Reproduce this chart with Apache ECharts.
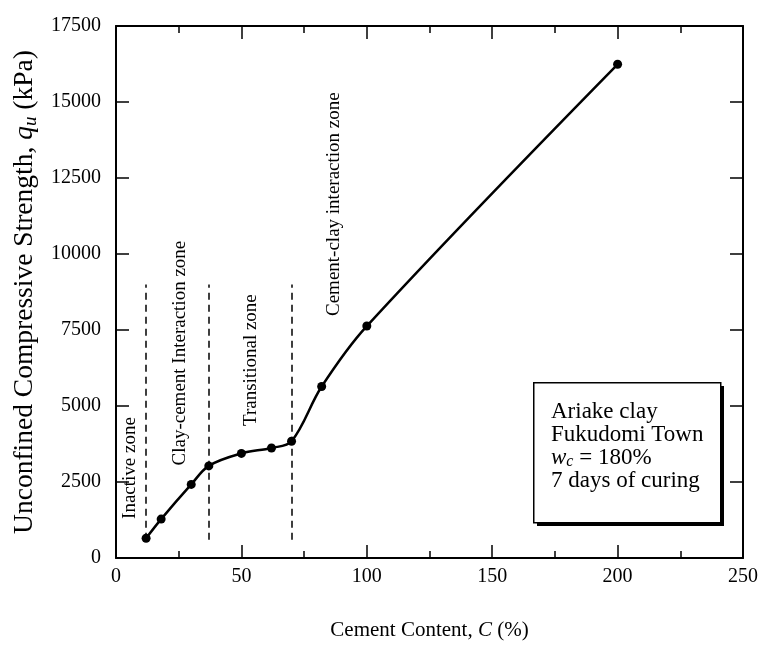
<!DOCTYPE html>
<html>
<head>
<meta charset="utf-8">
<script src="https://cdn.jsdelivr.net/npm/echarts@6/dist/echarts.min.js"></script>
<style>
  html, body { margin: 0; padding: 0; background: #fff; }
  #chart { width: 761px; height: 655px; }
</style>
</head>
<body>
<div id="chart"></div>
<script>
// measured points
const cementContent = [12, 18, 30, 37, 50, 62, 70, 82, 100, 200];
const strength = [650, 1280, 2420, 3030, 3440, 3620, 3840, 5640, 7630, 16240];
// zone boundaries (dashed lines) and zone names
const zoneBounds = [12, 37, 70];
const zoneNames = ['Inactive zone', 'Clay-cement Interaction zone', 'Transitional zone', 'Cement-clay interaction zone'];
const boxLines = ['Ariake clay', 'Fukudomi Town', '{i|w}{s|c}{n| = 180%}', '7 days of curing'];

const FONT = 'Liberation Serif';
const chart = echarts.init(document.getElementById('chart'));

// where the rotated zone names sit (data coords)
const zoneAnchors = [[5.6, 2960], [25.4, 6740], [54, 6510], [87, 11640]];
const dashFrom = 600, dashTo = 9000;

const axisCommon = {
  min: 0,
  axisLine: { show: true, onZero: false, lineStyle: { color: '#000', width: 2 } },
  axisTick: { show: true, inside: true, length: 13, lineStyle: { color: '#000', width: 1.5 } },
  splitLine: { show: false }
};

const option = {
  animation: false,
  backgroundColor: '#fff',
  textStyle: { fontFamily: FONT, color: '#000' },
  grid: { left: 116, right: 16, top: 26, bottom: 97 },
  xAxis: [
    Object.assign({}, axisCommon, {
      type: 'value', max: 250, interval: 50, position: 'bottom',
      minorTick: { show: true, splitNumber: 2, length: 7, lineStyle: { color: '#000', width: 1.5 } },
      axisLabel: { fontFamily: FONT, fontSize: 20, color: '#000', margin: 9, formatter: v => String(v) },
      name: '{n|Cement Content, }{i|C}{n| (%)}',
      nameLocation: 'middle', nameGap: 62,
      nameTextStyle: {
        rich: {
          n: { fontFamily: FONT, fontSize: 21, color: '#000' },
          i: { fontFamily: FONT, fontSize: 21, fontStyle: 'italic', color: '#000' }
        }
      }
    }),
    Object.assign({}, axisCommon, {
      type: 'value', max: 250, interval: 50, position: 'top',
      minorTick: { show: true, splitNumber: 2, length: 7, lineStyle: { color: '#000', width: 1.5 } },
      axisLabel: { show: false }
    })
  ],
  yAxis: [
    Object.assign({}, axisCommon, {
      type: 'value', max: 17500, interval: 2500, position: 'left',
      axisLabel: { fontFamily: FONT, fontSize: 20, color: '#000', margin: 15, formatter: v => String(v) },
      name: '{n|Unconfined Compressive Strength, }{i|q}{s|u}{n| (kPa)}',
      nameLocation: 'middle', nameGap: 72, nameRotate: 90,
      nameTextStyle: {
        rich: {
          n: { fontFamily: FONT, fontSize: 27.5, color: '#000' },
          i: { fontFamily: FONT, fontSize: 27.5, fontStyle: 'italic', color: '#000' },
          s: { fontFamily: FONT, fontSize: 19, fontStyle: 'italic', color: '#000', padding: [12, 0, 0, 0] }
        }
      }
    }),
    Object.assign({}, axisCommon, {
      type: 'value', max: 17500, interval: 2500, position: 'right',
      axisLabel: { show: false }
    })
  ],
  series: [{
    type: 'line',
    data: cementContent.map((c, i) => [c, strength[i]]),
    smooth: 0.35,
    symbol: 'circle',
    symbolSize: 9,
    itemStyle: { color: '#000' },
    lineStyle: { color: '#000', width: 2.5 },
    markLine: {
      silent: true,
      symbol: 'none',
      label: { show: false },
      lineStyle: { color: '#000', width: 1.5, type: [7, 5] },
      data: zoneBounds.map(b => [{ coord: [b, dashFrom] }, { coord: [b, dashTo] }])
    },
    markPoint: {
      silent: true,
      symbol: 'circle',
      symbolSize: 0,
      label: {
        show: true, position: 'inside', rotate: 90,
        fontFamily: FONT, fontSize: 19, color: '#000',
        formatter: p => p.name
      },
      data: zoneNames.map((n, i) => ({ name: n, coord: zoneAnchors[i] }))
    }
  }],
  graphic: [
    { type: 'rect', left: 537, top: 386, shape: { width: 187, height: 140 }, style: { fill: '#000' } },
    { type: 'rect', left: 533, top: 382, shape: { width: 187, height: 140 }, style: { fill: '#fff', stroke: '#000', lineWidth: 1.5 } },
    {
      type: 'text', left: 551, top: 400,
      style: {
        text: boxLines.join('\n'),
        font: '23px "Liberation Serif"',
        fill: '#000',
        lineHeight: 23,
        rich: {
          i: { fontFamily: FONT, fontSize: 23, fontStyle: 'italic', lineHeight: 23 },
          s: { fontFamily: FONT, fontSize: 16, fontStyle: 'italic', lineHeight: 23, padding: [8, 0, 0, 0] },
          n: { fontFamily: FONT, fontSize: 23, lineHeight: 23 }
        }
      }
    }
  ]
};

chart.setOption(option);
</script>
</body>
</html>
